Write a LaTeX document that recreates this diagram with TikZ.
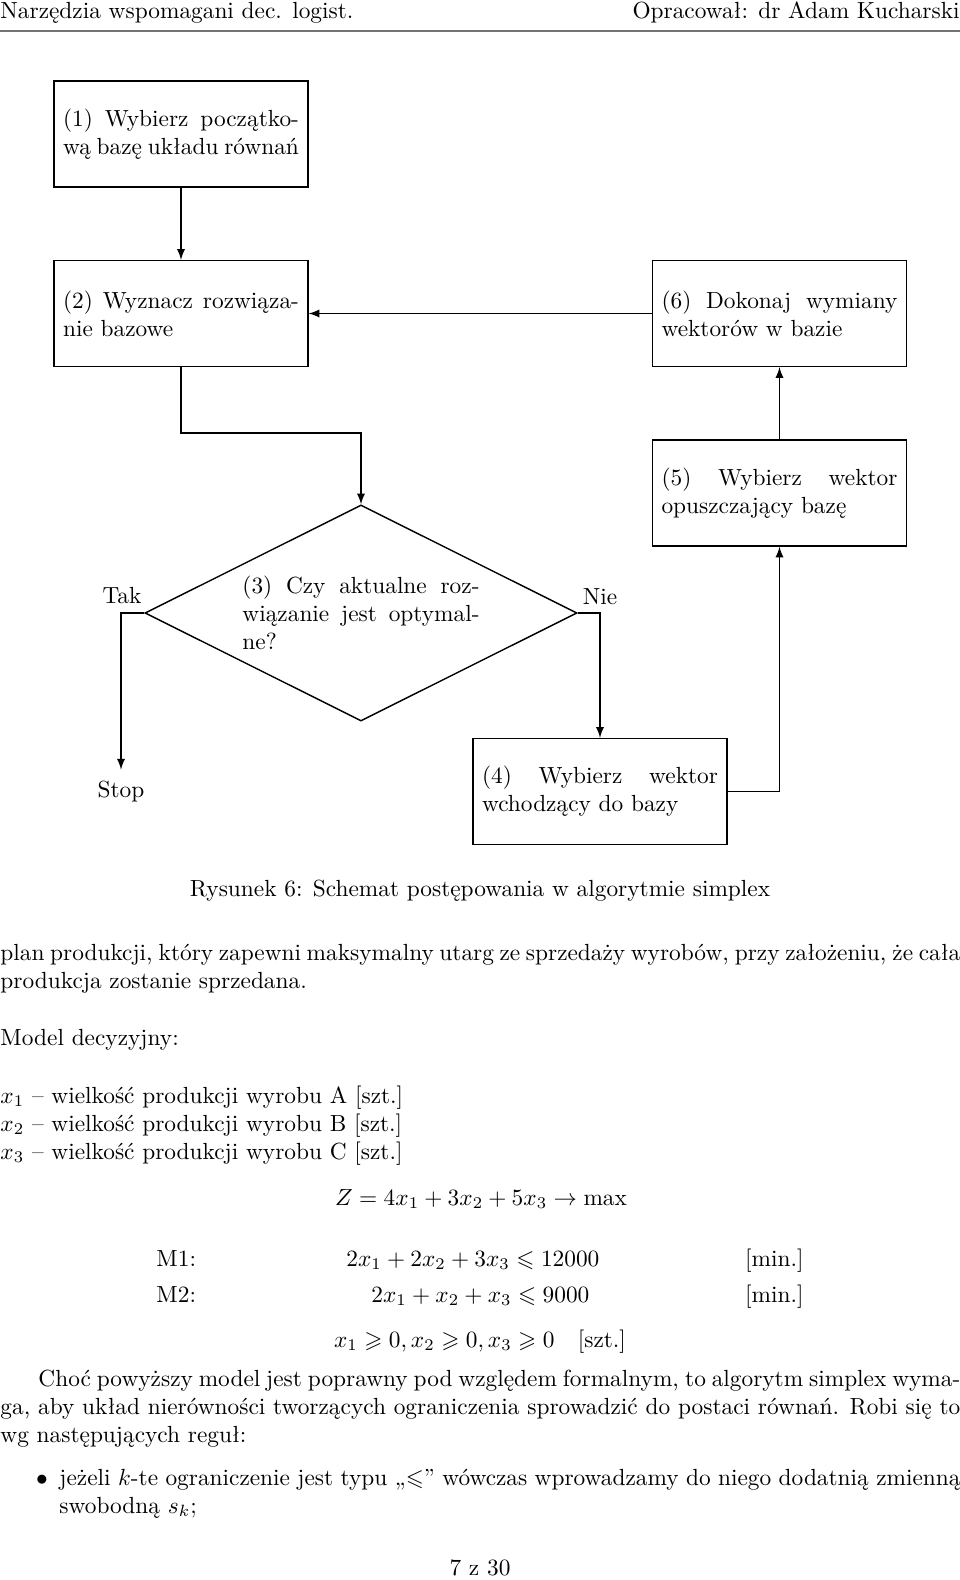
\documentclass[tikz,border=0pt]{standalone}
\usepackage{amsmath,amssymb}
\usepackage{fontspec}
\usetikzlibrary{arrows,shapes.geometric}
\tolerance=9999
\hbadness=10000
\definecolor{hGray}{gray}{0.45}
\tikzset{
    procbox/.style={rectangle, draw, line width=0.6pt, text width=101.1pt, inner xsep=3.86pt, inner ysep=0pt, minimum height=45.4pt, align=justify},
    decis/.style={diamond, draw, line width=0.6pt, aspect=2, inner sep=0pt, minimum width=185.2pt, minimum height=92.6pt, text width=101.6pt, align=justify},
    conn/.style={line width=0.6pt, -latex},
    txt/.style={inner sep=0pt, anchor=base west},
    head rule/.style={line width=1pt, hGray}
}

\begin{document}
\begin{tikzpicture}[x=0.4286pt,y=-0.4286pt]
\useasboundingbox (0,0) rectangle (960,1580);
% naglowek strony
\node[txt] (hl) at (0,19) {Narzędzia wspomagani dec. logist.};
\node[txt,anchor=base east] (hr) at (960,19) {Opracował: dr Adam Kucharski};
\draw[head rule] (0,31)--(960,31);
% schemat
\node[procbox] (b1) at (181,134) {(1) Wybierz początko-\linebreak wą bazę układu równań};
\node[procbox] (b2) at (181,313.5) {(2) Wyznacz rozwiąza-\linebreak nie bazowe};
\node[procbox] (b6) at (779.5,313.5) {(6) Dokonaj wymiany\linebreak wektorów w bazie};
\node[procbox] (b5) at (779.5,493) {(5) Wybierz wektor\linebreak opuszczający bazę};
\node[decis] (q3) at (361,613) {(3) Czy aktualne roz-\linebreak wiązanie jest optymal-\linebreak ne?};
\node[procbox] (b4) at (600,791.5) {(4) Wybierz wektor\linebreak wchodzący do bazy};
\node[txt,anchor=base] (tak) at (122,604) {Tak};
\node[txt,anchor=base] (nie) at (600,605) {Nie};
\node[anchor=base,inner sep=4.5pt] (stop) at (121,797) {Stop};
\coordinate (j1) at (181,433);
\draw[conn] (b1)--(b2);
\draw[conn] (b2.south)--(j1)-|(q3.north);
\draw[conn] (q3.west)-|(stop.north);
\draw[conn] (q3.east)-|(b4.north);
\draw[conn] (b4.east)-|(b5.south);
\draw[conn] (b5)--(b6);
\draw[conn] (b6)--(b2);
\node[txt,anchor=base] (capt) at (480,896) {Rysunek 6: Schemat postępowania w algorytmie simplex};
% tekst
\node[txt,text width=411.4pt,align=justify] (par1) at (0,960) {plan produkcji, który zapewni maksymalny utarg ze sprzedaży wyrobów, przy założeniu, że cała\linebreak produkcja zostanie sprzedana.};
\node[txt] (model) at (0,1045) {Model decyzyjny:};
\node[txt,text width=300pt,align=left] (vars) at (0,1103) {$x_1$ -- wielkość produkcji wyrobu A [szt.]\\ $x_2$ -- wielkość produkcji wyrobu B [szt.]\\ $x_3$ -- wielkość produkcji wyrobu C [szt.]};
\node[txt,anchor=base] (zfun) at (481,1205) {$Z = 4x_1 + 3x_2 + 5x_3 \rightarrow \max$};
\node[txt] (m1) at (156,1266) {M1:};
\node[txt] (m1eq) at (346,1266) {$2x_1 + 2x_2 + 3x_3 \leqslant 12000$};
\node[txt,anchor=base east] (m1u) at (804,1266) {[min.]};
\node[txt] (m2) at (156,1302) {M2:};
\node[txt] (m2eq) at (371,1302) {$2x_1 + x_2 + x_3 \leqslant 9000$};
\node[txt,anchor=base east] (m2u) at (804,1302) {[min.]};
\node[txt,anchor=base] (nneg) at (480,1347) {$x_1 \geqslant 0, x_2 \geqslant 0, x_3 \geqslant 0$\quad [szt.]};
\node[txt,text width=411.4pt,align=justify] (par2) at (0,1386) {\hspace*{16.3pt}Choć powyższy model jest poprawny pod względem formalnym, to algorytm simplex wyma-\linebreak ga, aby układ nierówności tworzących ograniczenia sprowadzić do postaci równań. Robi się to\linebreak wg następujących reguł:};
\node[txt,anchor=base] (bul) at (42,1485) {$\bullet$};
\node[txt,text width=386.2pt,align=justify] (item) at (59,1485) {jeżeli $k$-te ograniczenie jest typu „$\leqslant$” wówczas wprowadzamy do niego dodatnią zmienną\linebreak swobodną $s_k$;};
\node[txt,anchor=base] (pgno) at (480,1575) {7 z 30};
\end{tikzpicture}
\end{document}
